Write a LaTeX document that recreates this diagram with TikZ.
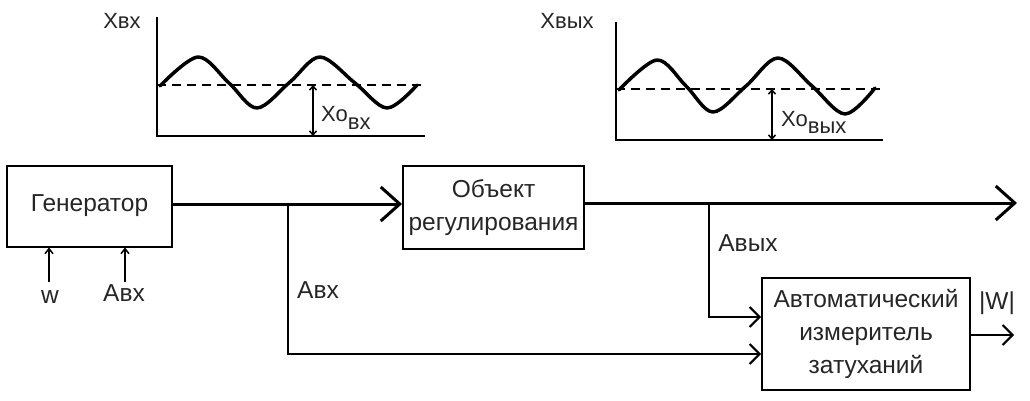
\documentclass[tikz,border=0pt]{standalone}
\usepackage{fontspec}
\setmainfont{Liberation Sans}
\usetikzlibrary{arrows.meta}

\tikzset{
  every node/.style={inner sep=0pt, text=black!85},
  block/.style={draw, line width=2pt, rectangle, align=center,
    font=\fontsize{24.5}{33}\selectfont},
  lbl/.style={font=\fontsize{24.5}{28}\selectfont},
  axlbl/.style={font=\fontsize{22}{26}\selectfont},
  mainline/.style={line width=3pt, -{Straight Barb[length=19pt,width=34pt,line width=3pt]}},
  sideline/.style={line width=2pt, -{Straight Barb[length=10pt,width=20pt,line width=2pt]}},
  inline/.style={line width=2pt, -{Straight Barb[length=5pt,width=8pt,line width=1.5pt]}},
  axis/.style={line width=2pt},
  level/.style={line width=2.2pt, dash pattern=on 9pt off 6pt},
  wave/.style={line width=3.5pt, line join=round, line cap=round},
  offset/.style={line width=1.5pt, {Straight Barb[length=4pt,width=7pt]}-{Straight Barb[length=4pt,width=7pt]}}
}

\begin{document}
\begin{tikzpicture}[x=1pt, y=-1pt]
\useasboundingbox (0,0) rectangle (1030,400);

% ---------- input signal plot ----------
\draw[axis] (157,17) -- (157,136) -- (425,136);
\draw[level] (157,85) -- (425,85);
\draw[wave] plot[smooth, tension=0.55] coordinates
  {(160,86) (198,57) (229,83) (257,108) (290,82) (320,57) (355,83) (387,108) (417,85)};
\coordinate (x1top) at (313,85);
\coordinate (x1bot) at (313,136);
\draw[offset] (x1top) -- (x1bot);
\node[axlbl] (xin) at (122,21) {Хвх};
\node[axlbl, anchor=base west] (x0in) at (321,121) {Хо\raisebox{-8pt}{вх}};

% ---------- output signal plot ----------
\draw[axis] (616,22) -- (616,140) -- (883,140);
\draw[level] (616,89) -- (883,89);
\draw[wave] plot[smooth, tension=0.55] coordinates
  {(619,90) (657,60) (686,86) (713,112) (746,86) (778,58) (812,86) (845,114) (875,88)};
\coordinate (x2top) at (772,89);
\coordinate (x2bot) at (772,140);
\draw[offset] (x2top) -- (x2bot);
\node[axlbl] (xout) at (567,21) {Хвых};
\node[axlbl, anchor=base west] (x0out) at (781,126) {Хо\raisebox{-7pt}{вых}};

% ---------- blocks ----------
\node[block, minimum width=165pt, minimum height=81pt] (gen) at (89.5,206) {Генератор};
\node[block, minimum width=181pt, minimum height=83pt] (obj) at (493.5,207.5)
  {Объект\\регулирования};
\node[block, minimum width=208pt, minimum height=112pt] (aiz) at (866,334)
  {Автоматический\\измеритель\\затуханий};

% ---------- connectors ----------
\coordinate (b1) at (288,204);
\coordinate (c1) at (288,354);
\coordinate (b2) at (709,203);
\coordinate (c2) at (709,317);
\coordinate (out) at (1017,203);
\coordinate (out2) at (1014,335);
\coordinate (w0) at (49,282);
\coordinate (a0) at (125,282);

\draw[mainline] (gen.east |- b1) -- (obj.west |- b1);
\draw[mainline] (obj.east |- b2) -- (out);
\draw[sideline] (b1) -- (c1) -- (aiz.west |- c1);
\draw[sideline] (b2) -- (c2) -- (aiz.west |- c2);
\draw[sideline] (aiz.east |- out2) -- (out2);
\draw[inline] (w0) -- (gen.south -| w0);
\draw[inline] (a0) -- (gen.south -| a0);

% ---------- labels ----------
\node[lbl] (lw) at (50,297) {w};
\node[lbl] (lain) at (124,293) {Авх};
\node[lbl] (lab) at (318,290) {Авх};
\node[lbl] (lout) at (748,243) {Авых};
\node[lbl] (lW) at (997,303) {|W|};
\end{tikzpicture}
\end{document}
